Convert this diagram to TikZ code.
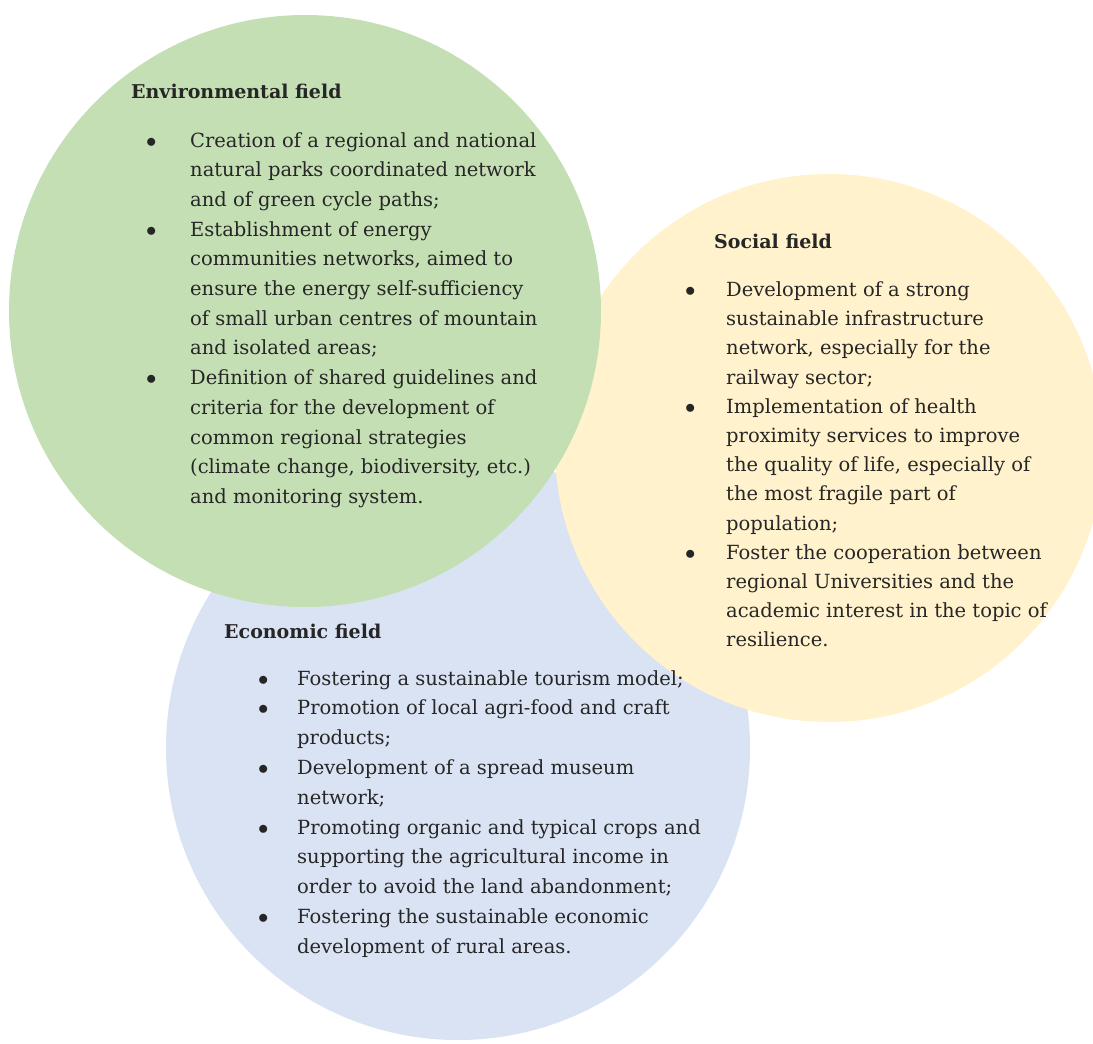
\documentclass[tikz,border=0pt]{standalone}
\usepackage{fontspec}
\setmainfont{DejaVu Serif}
\definecolor{envgreen}{RGB}{197,223,180}
\definecolor{socyellow}{RGB}{255,242,204}
\definecolor{ecoblue}{RGB}{218,227,243}
\definecolor{txtgray}{RGB}{38,38,38}
\tikzstyle{field} = [circle, draw=none, inner sep=0pt]
\tikzstyle{head} = [anchor=west, inner sep=0pt, text=txtgray,
    font=\fontsize{19}{24}\selectfont\bfseries]
\tikzstyle{list} = [anchor=base west, inner sep=0pt, text=txtgray]
\newcommand{\bul}{\makebox[22pt][c]{$\bullet$}}

\begin{document}
\begin{tikzpicture}[x=1pt, y=-1pt]
	\useasboundingbox [fill=white] (0,0) rectangle (1093,1044);
	% the three fields
	\node [field, fill=ecoblue, minimum size=584pt] (eco) at (458,748) {};
	\node [field, fill=socyellow, minimum size=548pt] (soc) at (829,448) {};
	\node [field, fill=envgreen, minimum size=592pt] (env) at (305,311) {};

	\node [head] (envhead) at (131,91) {Environmental field};
	\node [list, font=\fontsize{19.5}{29.7}\selectfont] (envlist) at (140,147) {%
		\begin{tabular}[t]{@{}l@{\hspace{28pt}}l@{}}
		\bul & Creation of a regional and national\\
		     & natural parks coordinated network\\
		     & and of green cycle paths;\\
		\bul & Establishment of energy\\
		     & communities networks, aimed to\\
		     & ensure the energy self-sufficiency\\
		     & of small urban centres of mountain\\
		     & and isolated areas;\\
		\bul & Definition of shared guidelines and\\
		     & criteria for the development of\\
		     & common regional strategies\\
		     & (climate change, biodiversity, etc.)\\
		     & and monitoring system.
		\end{tabular}};

	\node [head] (sochead) at (714,241) {Social field};
	\node [list, font=\fontsize{19.5}{29.2}\selectfont] (soclist) at (679,296.5) {%
		\begin{tabular}[t]{@{}l@{\hspace{25pt}}l@{}}
		\bul & Development of a strong\\
		     & sustainable infrastructure\\
		     & network, especially for the\\
		     & railway sector;\\
		\bul & Implementation of health\\
		     & proximity services to improve\\
		     & the quality of life, especially of\\
		     & the most fragile part of\\
		     & population;\\
		\bul & Foster the cooperation between\\
		     & regional Universities and the\\
		     & academic interest in the topic of\\
		     & resilience.
		\end{tabular}};

	\node [head] (ecohead) at (224,631) {Economic field};
	\node [list, font=\fontsize{19.5}{29.8}\selectfont] (ecolist) at (252,685) {%
		\begin{tabular}[t]{@{}l@{\hspace{23pt}}l@{}}
		\bul & Fostering a sustainable tourism model;\\
		\bul & Promotion of local agri-food and craft\\
		     & products;\\
		\bul & Development of a spread museum\\
		     & network;\\
		\bul & Promoting organic and typical crops and\\
		     & supporting the agricultural income in\\
		     & order to avoid the land abandonment;\\
		\bul & Fostering the sustainable economic\\
		     & development of rural areas.
		\end{tabular}};
\end{tikzpicture}
\end{document}
